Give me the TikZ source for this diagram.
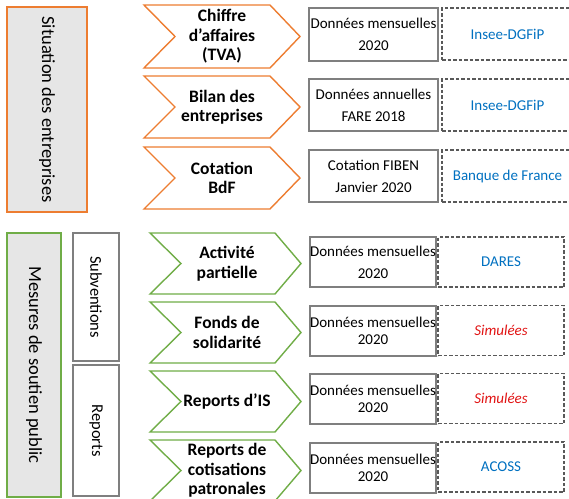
\documentclass[tikz,border=0pt]{standalone}
\usepackage{fontspec}
\setmainfont{Carlito}
\definecolor{orng}{RGB}{237,125,49}
\definecolor{grn}{RGB}{112,173,71}
\definecolor{lgray}{RGB}{230,230,230}
\definecolor{bgray}{RGB}{127,127,127}
\definecolor{dgray}{RGB}{89,89,89}
\definecolor{blu}{RGB}{0,112,192}
\definecolor{rd}{RGB}{225,20,20}
\tikzset{
  ochev/.style={draw=orng, line width=1.4pt, line join=miter, fill=white},
  gchev/.style={draw=grn, line width=1.4pt, line join=miter, fill=white},
  chevtxt/.style={align=center, inner sep=0pt, font=\fontsize{17.5}{19.5}\selectfont\bfseries},
  databox/.style={draw=bgray, line width=1.2pt, fill=white, inner sep=0pt, align=center, font=\fontsize{15}{22}\selectfont},
  tightbox/.style={databox, font=\fontsize{15}{16.5}\selectfont},
  srcbox/.style={draw=dgray, line width=1.1pt, dash pattern=on 3.5pt off 2pt, inner sep=0pt, align=center, font=\fontsize{15}{18}\selectfont},
  sidebox/.style={line width=1.6pt, fill=lgray, inner sep=0pt},
  subbox/.style={draw=bgray, line width=1.2pt, fill=white, inner sep=0pt},
  sidetxt/.style={inner sep=0pt, font=\fontsize{18.5}{22}\selectfont},
  subtxt/.style={inner sep=0pt, font=\fontsize{16.5}{20}\selectfont},
  src/.style={text=blu},
  sim/.style={text=rd, font=\fontsize{15}{18}\selectfont\itshape}
}
\begin{document}
\begin{tikzpicture}[x=1pt,y=-1pt]
\useasboundingbox (0,0) rectangle (569,498);
% left side boxes
\node[sidebox, draw=orng, minimum width=80pt, minimum height=205pt] (b1) at (47,109.5) {};
\node[sidetxt, rotate=-90] (t1) at (b1.center) {Situation des entreprises};
\node[sidebox, draw=grn, minimum width=54pt, minimum height=264pt] (b2) at (34,365) {};
\node[sidetxt, rotate=-90] (t2) at (b2.center) {Mesures de soutien public};
\node[subbox, minimum width=46pt, minimum height=128pt] (b3) at (96,297) {};
\node[subtxt, rotate=-90] (t3) at (b3.center) {Subventions};
\node[subbox, minimum width=46pt, minimum height=131pt] (b4) at (96,430.5) {};
\node[subtxt, rotate=-90] (t4) at (b4.center) {Reports};
% orange chevrons
\draw[ochev] (144,5) -- (270,5) -- (300,36.5) -- (270,68) -- (144,68) -- (175,36.5) -- cycle;
\node[chevtxt] (c1) at (222,36.5) {Chiffre\\d’affaires\\(TVA)};
\draw[ochev] (144,76) -- (270,76) -- (300,107) -- (270,138) -- (144,138) -- (175,107) -- cycle;
\node[chevtxt] (c2) at (222,107) {Bilan des\\entreprises};
\draw[ochev] (144,147) -- (270,147) -- (300,178) -- (270,209) -- (144,209) -- (175,178) -- cycle;
\node[chevtxt] (c3) at (222,178) {Cotation\\BdF};
% green chevrons
\draw[gchev] (150,233) -- (275,233) -- (301,263.5) -- (275,294) -- (150,294) -- (181,263.5) -- cycle;
\node[chevtxt] (c4) at (227,263.5) {Activité\\partielle};
\draw[gchev] (150,302) -- (275,302) -- (301,332.5) -- (275,363) -- (150,363) -- (181,332.5) -- cycle;
\node[chevtxt] (c5) at (227,332.5) {Fonds de\\solidarité};
\draw[gchev] (150,371) -- (275,371) -- (301,401.5) -- (275,432) -- (150,432) -- (181,401.5) -- cycle;
\node[chevtxt] (c6) at (227,401.5) {Reports d’IS};
\draw[gchev] (150,440) -- (275,440) -- (301,470.5) -- (275,501) -- (150,501) -- (181,470.5) -- cycle;
\node[chevtxt] (c7) at (227,470.5) {Reports de\\cotisations\\patronales};
% data boxes top
\node[databox, minimum width=129pt, minimum height=53pt] (d1) at (373.5,34.5) {Données mensuelles\\2020};
\node[databox, minimum width=129pt, minimum height=52pt] (d2) at (373.5,105) {Données annuelles\\FARE 2018};
\node[databox, minimum width=129pt, minimum height=52pt] (d3) at (373.5,176) {Cotation FIBEN\\Janvier 2020};
\node[srcbox, minimum width=131pt, minimum height=52pt] (s1) at (507.5,34) {};
\node[src, font=\fontsize{15}{18}\selectfont] (l1) at (s1.center) {Insee-DGFiP};
\node[srcbox, minimum width=131pt, minimum height=52pt] (s2) at (507.5,105) {};
\node[src, font=\fontsize{15}{18}\selectfont] (l2) at (s2.center) {Insee-DGFiP};
\node[srcbox, minimum width=131pt, minimum height=52pt] (s3) at (507.5,176) {};
\node[src, font=\fontsize{15}{18}\selectfont] (l3) at (s3.center) {Banque de France};
% data boxes bottom
\node[databox, minimum width=126pt, minimum height=50pt] (d4) at (373,262) {Données mensuelles\\2020};
\node[tightbox, minimum width=126pt, minimum height=50pt] (d5) at (373,331) {Données mensuelles\\2020};
\node[tightbox, minimum width=126pt, minimum height=50pt] (d6) at (373,399) {Données mensuelles\\2020};
\node[tightbox, minimum width=126pt, minimum height=50pt] (d7) at (373,468) {Données mensuelles\\2020};
\node[srcbox, minimum width=126pt, minimum height=50pt] (s4) at (501,262) {};
\node[src, font=\fontsize{15}{18}\selectfont] (l4) at (s4.center) {DARES};
\node[srcbox, minimum width=126pt, minimum height=50pt] (s5) at (501,330.5) {};
\node[sim] (l5) at (s5.center) {Simulées};
\node[srcbox, minimum width=126pt, minimum height=50pt] (s6) at (501,398.5) {};
\node[sim] (l6) at (s6.center) {Simulées};
\node[srcbox, minimum width=126pt, minimum height=50pt] (s7) at (501,467) {};
\node[src, font=\fontsize{15}{18}\selectfont] (l7) at (s7.center) {ACOSS};
\end{tikzpicture}
\end{document}
